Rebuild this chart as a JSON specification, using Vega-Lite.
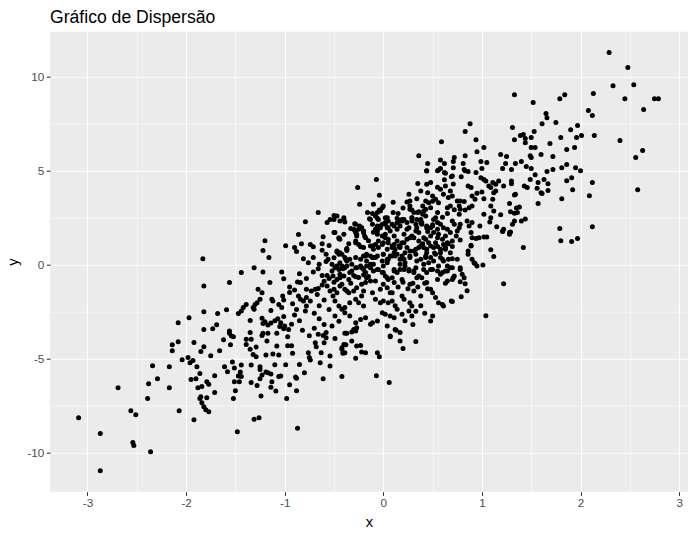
{
  "$schema": "https://vega.github.io/schema/vega-lite/v6.json",
  "width": 638,
  "height": 460,
  "autosize": {"type": "none"},
  "padding": {"left": 50, "top": 31.7, "right": 6, "bottom": 45.3},
  "background": "white",
  "title": {"text": "Gráfico de Dispersão", "anchor": "start", "frame": "group", "fontSize": 17.6, "font": "Liberation Sans", "fontWeight": "normal", "color": "#000000", "baseline": "alphabetic", "offset": 9.7, "dy": 19},
  "config": {
    "view": {"fill": "#EBEBEB", "stroke": null},
    "axis": {"domain": false, "gridColor": "#FFFFFF", "labelFont": "Liberation Sans", "titleFont": "Liberation Sans", "titleFontWeight": "normal", "titleColor": "#000000", "titleFontSize": 14.7, "labelFontSize": 11.7, "labelColor": "#4D4D4D", "tickColor": "#333333", "tickSize": 3.7, "tickWidth": 1.07}
  },
  "data": {"values": [
    {"x": -3.09, "y": -8.16}, {"x": -2.87, "y": -9.0}, {"x": -2.87, "y": -10.97}, {"x": -2.69, "y": -6.56}, {"x": -2.56, "y": -7.78}, {"x": -2.51, "y": -8.0}, {"x": -2.54, "y": -9.48}, {"x": -2.53, "y": -9.64}, {"x": -2.36, "y": -9.96}, {"x": -2.39, "y": -7.14}, {"x": -2.38, "y": -6.35}, {"x": -2.29, "y": -6.08}, {"x": -2.34, "y": -5.39}, {"x": -2.17, "y": -5.44}, {"x": -2.17, "y": -6.56}, {"x": -2.07, "y": -7.78}, {"x": -2.08, "y": -3.1}, {"x": -2.14, "y": -4.27}, {"x": -2.14, "y": -4.59}, {"x": -2.08, "y": -4.11}, {"x": -2.04, "y": -5.07}, {"x": -1.97, "y": -2.84}, {"x": -1.98, "y": -4.96}, {"x": -1.96, "y": -5.23}, {"x": -1.93, "y": -5.12}, {"x": -1.92, "y": -4.16}, {"x": -1.82, "y": -2.52}, {"x": -1.82, "y": -3.47}, {"x": -1.82, "y": -4.38}, {"x": -1.85, "y": -4.64}, {"x": -1.89, "y": -5.44}, {"x": -1.86, "y": -5.81}, {"x": -1.9, "y": -6.08}, {"x": -1.95, "y": -6.13}, {"x": -1.88, "y": -6.56}, {"x": -1.84, "y": -6.49}, {"x": -1.79, "y": -6.24}, {"x": -1.77, "y": -6.38}, {"x": -1.85, "y": -7.04}, {"x": -1.86, "y": -7.14}, {"x": -1.79, "y": -7.09}, {"x": -1.84, "y": -7.36}, {"x": -1.82, "y": -7.57}, {"x": -1.8, "y": -7.73}, {"x": -1.77, "y": -7.84}, {"x": -1.92, "y": -8.26}, {"x": -1.71, "y": -6.82}, {"x": -1.71, "y": -5.92}, {"x": -1.75, "y": -4.86}, {"x": -1.66, "y": -4.59}, {"x": -1.62, "y": -4.01}, {"x": -1.73, "y": -3.42}, {"x": -1.69, "y": -3.21}, {"x": -1.68, "y": -2.62}, {"x": -1.59, "y": -2.41}, {"x": -1.61, "y": -5.44}, {"x": -1.58, "y": -5.71}, {"x": -1.48, "y": -8.9},
    {"x": -0.86, "y": 1.58}, {"x": -0.61, "y": 1.47}, {"x": -0.5, "y": 1.69}, {"x": -0.45, "y": 1.38}, {"x": -1.2, "y": 1.26}, {"x": -0.99, "y": 0.99}, {"x": -0.9, "y": 0.89}, {"x": -0.88, "y": 0.68}, {"x": -0.83, "y": 1.1}, {"x": -0.74, "y": 1.05}, {"x": -0.71, "y": 0.94}, {"x": -0.62, "y": 1.1}, {"x": -1.22, "y": 0.73}, {"x": -1.16, "y": 0.36}, {"x": -1.83, "y": 0.3}, {"x": -0.81, "y": 0.3}, {"x": -0.76, "y": 0.09}, {"x": -0.71, "y": 0.36}, {"x": -0.58, "y": 0.53}, {"x": -0.56, "y": 0.27}, {"x": -0.47, "y": 0.65}, {"x": -0.45, "y": 0.53}, {"x": -0.37, "y": 0.73}, {"x": -0.38, "y": 0.27}, {"x": -0.44, "y": 0.09}, {"x": -0.47, "y": -0.09}, {"x": -0.52, "y": -0.36}, {"x": -0.65, "y": 0.0}, {"x": -0.66, "y": -0.23}, {"x": -0.71, "y": -0.41}, {"x": -0.57, "y": -0.59}, {"x": -0.62, "y": -0.59}, {"x": -0.44, "y": -0.53}, {"x": -0.41, "y": -0.23}, {"x": -0.37, "y": -0.09}, {"x": -1.44, "y": -0.44}, {"x": -1.31, "y": -0.18}, {"x": -1.22, "y": -0.41}, {"x": -1.03, "y": -0.41}, {"x": -1.01, "y": -0.76}, {"x": -1.56, "y": -0.97}, {"x": -1.15, "y": -0.97}, {"x": -0.87, "y": -0.94}, {"x": -0.84, "y": -0.97}, {"x": -0.73, "y": -1.42}, {"x": -0.69, "y": -1.33}, {"x": -0.66, "y": -1.29}, {"x": -0.67, "y": -1.6}, {"x": -0.57, "y": -1.15}, {"x": -0.54, "y": -1.42}, {"x": -0.5, "y": -1.33}, {"x": -0.47, "y": -1.51}, {"x": -0.42, "y": -1.06}, {"x": -0.37, "y": -1.42}, {"x": -0.9, "y": -1.37}, {"x": -0.78, "y": -1.33}, {"x": -0.86, "y": -1.69}, {"x": -0.84, "y": -1.86}, {"x": -0.81, "y": -1.95}, {"x": -0.78, "y": -1.77}, {"x": -0.74, "y": -1.95}, {"x": -0.78, "y": -2.22}, {"x": -0.79, "y": -2.48}, {"x": -1.02, "y": -1.69}, {"x": -1.01, "y": -1.9}, {"x": -1.27, "y": -1.33}, {"x": -1.23, "y": -1.51}, {"x": -1.25, "y": -1.86}, {"x": -1.28, "y": -2.04}, {"x": -1.3, "y": -2.13}, {"x": -1.32, "y": -2.3}, {"x": -1.39, "y": -2.13}, {"x": -1.42, "y": -2.3}, {"x": -1.44, "y": -2.48}, {"x": -1.47, "y": -2.61}, {"x": -1.13, "y": -1.86}, {"x": -1.12, "y": -1.95}, {"x": -1.06, "y": -2.13}, {"x": -1.03, "y": -2.3}, {"x": -1.14, "y": -2.45}, {"x": -1.01, "y": -2.78}, {"x": -1.31, "y": -2.39}, {"x": -1.35, "y": -2.98}, {"x": -1.23, "y": -2.87}, {"x": -1.22, "y": -3.15}, {"x": -1.2, "y": -3.05}, {"x": -1.17, "y": -3.22}, {"x": -1.14, "y": -3.12}, {"x": -1.1, "y": -3.0}, {"x": -1.07, "y": -2.9}, {"x": -1.04, "y": -3.1}, {"x": -1.05, "y": -3.3}, {"x": -1.0, "y": -3.28}, {"x": -0.96, "y": -3.46}, {"x": -1.01, "y": -3.42}, {"x": -0.93, "y": -3.19}, {"x": -0.97, "y": -3.85}, {"x": -1.08, "y": -3.67}, {"x": -1.17, "y": -3.67}, {"x": -1.22, "y": -3.67}, {"x": -1.18, "y": -4.08}, {"x": -1.35, "y": -3.63}, {"x": -1.34, "y": -3.99}, {"x": -1.39, "y": -3.99}, {"x": -1.39, "y": -4.26}, {"x": -1.35, "y": -4.52}, {"x": -1.32, "y": -4.79}, {"x": -1.29, "y": -4.91}, {"x": -1.29, "y": -4.4}, {"x": -1.56, "y": -3.67}, {"x": -1.54, "y": -3.81}, {"x": -1.52, "y": -3.85}, {"x": -1.56, "y": -3.55}, {"x": -1.55, "y": -4.27}, {"x": -1.23, "y": -3.78}, {"x": -1.08, "y": -4.34}, {"x": -0.97, "y": -4.33}, {"x": -0.93, "y": -4.33}, {"x": -0.92, "y": -4.73}, {"x": -1.19, "y": -4.82}, {"x": -1.12, "y": -4.77}, {"x": -1.06, "y": -4.82}, {"x": -0.76, "y": -4.7}, {"x": -0.75, "y": -4.96}, {"x": -0.74, "y": -5.09}, {"x": -0.69, "y": -4.17}, {"x": -0.68, "y": -4.38}, {"x": -0.66, "y": -3.72}, {"x": -0.61, "y": -3.78}, {"x": -0.58, "y": -3.63}, {"x": -0.6, "y": -4.17}, {"x": -0.63, "y": -4.7}, {"x": -0.54, "y": -4.88}, {"x": -0.49, "y": -3.94}, {"x": -0.42, "y": -4.43}, {"x": -0.41, "y": -4.73}, {"x": -0.38, "y": -4.27}, {"x": -0.37, "y": -3.67}, {"x": -0.64, "y": -5.23}, {"x": -0.54, "y": -5.41}, {"x": -0.42, "y": -5.97}, {"x": -0.61, "y": -6.08}, {"x": -0.8, "y": -5.76}, {"x": -0.85, "y": -5.32}, {"x": -0.89, "y": -5.99}, {"x": -0.88, "y": -6.06}, {"x": -0.95, "y": -6.4}, {"x": -0.88, "y": -6.72}, {"x": -0.99, "y": -5.34}, {"x": -1.1, "y": -5.34}, {"x": -1.04, "y": -5.94}, {"x": -1.06, "y": -5.97}, {"x": -1.14, "y": -5.83}, {"x": -1.17, "y": -5.76}, {"x": -1.19, "y": -5.73}, {"x": -1.13, "y": -6.24}, {"x": -1.14, "y": -6.54}, {"x": -1.09, "y": -6.74}, {"x": -1.25, "y": -5.44}, {"x": -1.25, "y": -5.59}, {"x": -1.23, "y": -5.89}, {"x": -1.25, "y": -6.08}, {"x": -1.28, "y": -6.44}, {"x": -1.24, "y": -7.0}, {"x": -1.34, "y": -5.35}, {"x": -1.34, "y": -6.29}, {"x": -0.98, "y": -7.14}, {"x": -1.44, "y": -5.35}, {"x": -1.45, "y": -5.73}, {"x": -1.47, "y": -5.94}, {"x": -1.44, "y": -5.97}, {"x": -1.53, "y": -5.19}, {"x": -1.51, "y": -5.51}, {"x": -1.51, "y": -6.24}, {"x": -1.46, "y": -6.24}, {"x": -1.5, "y": -6.72}, {"x": -1.52, "y": -7.14}, {"x": -1.31, "y": -8.24}, {"x": -1.26, "y": -8.16}, {"x": -0.87, "y": -8.72}, {"x": -1.82, "y": -1.15},
    {"x": -0.07, "y": 4.51}, {"x": -0.26, "y": 4.08}, {"x": -0.04, "y": 3.67}, {"x": -0.24, "y": 3.19}, {"x": -0.1, "y": 3.19}, {"x": -0.01, "y": 3.01}, {"x": -0.03, "y": 2.84}, {"x": -0.16, "y": 2.75}, {"x": -0.11, "y": 2.7}, {"x": -0.06, "y": 2.75}, {"x": 0.1, "y": 2.75}, {"x": 0.44, "y": 4.96}, {"x": 0.56, "y": 5.02}, {"x": 0.63, "y": 4.84}, {"x": 0.7, "y": 4.7}, {"x": 0.71, "y": 4.27}, {"x": 0.44, "y": 4.26}, {"x": 0.48, "y": 4.35}, {"x": 0.38, "y": 3.9}, {"x": 0.26, "y": 3.72}, {"x": 0.24, "y": 3.31}, {"x": 0.27, "y": 3.37}, {"x": 0.34, "y": 3.49}, {"x": 0.43, "y": 3.37}, {"x": 0.46, "y": 3.28}, {"x": 0.5, "y": 3.63}, {"x": 0.53, "y": 3.46}, {"x": 0.56, "y": 3.28}, {"x": 0.58, "y": 3.99}, {"x": 0.63, "y": 4.16}, {"x": 0.61, "y": 3.72}, {"x": 0.66, "y": 3.55}, {"x": 0.7, "y": 3.63}, {"x": 0.75, "y": 3.37}, {"x": 0.77, "y": 3.1}, {"x": 0.68, "y": 3.1}, {"x": 0.65, "y": 3.01}, {"x": 0.48, "y": 3.01}, {"x": 0.41, "y": 2.84}, {"x": 0.36, "y": 2.79}, {"x": 0.27, "y": 2.93}, {"x": 0.31, "y": 2.75}, {"x": 0.29, "y": 2.48}, {"x": 0.19, "y": 2.39}, {"x": 0.16, "y": 2.3}, {"x": 0.14, "y": 2.22}, {"x": 0.04, "y": 2.48}, {"x": 0.05, "y": 2.3}, {"x": 0.02, "y": 2.13}, {"x": -0.03, "y": 1.95}, {"x": -0.06, "y": 1.77}, {"x": 0.38, "y": 2.39}, {"x": 0.39, "y": 2.13}, {"x": 0.34, "y": 1.95}, {"x": 0.33, "y": 1.77}, {"x": 0.29, "y": 1.51}, {"x": 0.51, "y": 2.39}, {"x": 0.55, "y": 2.22}, {"x": 0.58, "y": 2.13}, {"x": 0.61, "y": 1.95}, {"x": 0.65, "y": 1.86}, {"x": 0.68, "y": 1.69}, {"x": 0.63, "y": 1.51}, {"x": 0.6, "y": 1.33}, {"x": 0.48, "y": 1.95}, {"x": 0.51, "y": 1.69}, {"x": 0.55, "y": 1.42}, {"x": 0.53, "y": 1.15}, {"x": 0.48, "y": 0.97}, {"x": 0.77, "y": 2.66}, {"x": 0.78, "y": 2.13}, {"x": 0.78, "y": 1.29}, {"x": -0.5, "y": 2.39}, {"x": -0.47, "y": 2.57}, {"x": -0.4, "y": 2.39}, {"x": -0.39, "y": 2.25}, {"x": -0.49, "y": 1.69}, {"x": -0.45, "y": 1.42}, {"x": -0.44, "y": 1.33}, {"x": -0.28, "y": 2.13}, {"x": -0.25, "y": 1.86}, {"x": -0.22, "y": 1.95}, {"x": -0.2, "y": 1.69}, {"x": -0.18, "y": 1.42}, {"x": -0.28, "y": 1.69}, {"x": -0.27, "y": 1.51}, {"x": -0.28, "y": 1.24}, {"x": -0.25, "y": 1.06}, {"x": -0.23, "y": 0.94}, {"x": -0.11, "y": 0.97}, {"x": -0.08, "y": 1.06}, {"x": -0.05, "y": 1.24}, {"x": -0.01, "y": 1.51}, {"x": 0.02, "y": 1.6}, {"x": 0.05, "y": 1.15}, {"x": 0.09, "y": 0.97}, {"x": 0.12, "y": 0.8}, {"x": 0.17, "y": 0.89}, {"x": 0.21, "y": 1.15}, {"x": 0.24, "y": 1.33}, {"x": -0.47, "y": 0.71}, {"x": -0.44, "y": 0.62}, {"x": -0.37, "y": 0.8}, {"x": -0.39, "y": 0.36}, {"x": -0.34, "y": 0.27}, {"x": -0.28, "y": 0.36}, {"x": -0.23, "y": 0.27}, {"x": -0.2, "y": 0.44}, {"x": -0.17, "y": 0.53}, {"x": -0.13, "y": 0.44}, {"x": -0.08, "y": 0.36}, {"x": 0.0, "y": 0.53}, {"x": 0.04, "y": 0.27}, {"x": 0.07, "y": 0.44}, {"x": 0.11, "y": 0.62}, {"x": 0.19, "y": 0.44}, {"x": 0.22, "y": 0.62}, {"x": 0.27, "y": 0.71}, {"x": 0.33, "y": 0.8}, {"x": 0.36, "y": 0.89}, {"x": 0.41, "y": 0.89}, {"x": 0.44, "y": 0.62}, {"x": 0.48, "y": 0.36}, {"x": 0.51, "y": 0.18}, {"x": 0.58, "y": 0.8}, {"x": 0.63, "y": 0.8}, {"x": 0.68, "y": 0.62}, {"x": 0.66, "y": 0.27}, {"x": 0.65, "y": -0.09}, {"x": 0.63, "y": -0.36}, {"x": 0.7, "y": -0.8}, {"x": 0.72, "y": -0.62}, {"x": 0.78, "y": -0.27}, {"x": 0.75, "y": 0.27}, {"x": -0.52, "y": 0.0}, {"x": -0.49, "y": -0.18}, {"x": -0.45, "y": -0.27}, {"x": -0.42, "y": -0.09}, {"x": -0.39, "y": -0.18}, {"x": -0.51, "y": -0.62}, {"x": -0.47, "y": -0.8}, {"x": -0.44, "y": -0.71}, {"x": -0.4, "y": -0.62}, {"x": -0.32, "y": -0.36}, {"x": -0.28, "y": -0.18}, {"x": -0.23, "y": -0.09}, {"x": -0.2, "y": -0.27}, {"x": -0.17, "y": -0.09}, {"x": -0.13, "y": -0.18}, {"x": -0.1, "y": 0.0}, {"x": -0.05, "y": -0.27}, {"x": -0.01, "y": -0.44}, {"x": 0.02, "y": -0.62}, {"x": 0.05, "y": -0.8}, {"x": 0.09, "y": -0.71}, {"x": 0.14, "y": -0.44}, {"x": 0.17, "y": -0.27}, {"x": 0.22, "y": -0.09}, {"x": 0.26, "y": -0.27}, {"x": 0.31, "y": -0.44}, {"x": 0.36, "y": -0.62}, {"x": 0.39, "y": -0.71}, {"x": 0.44, "y": -0.44}, {"x": 0.48, "y": -0.27}, {"x": 0.55, "y": -0.36}, {"x": 0.58, "y": -0.53}, {"x": -0.44, "y": -1.15}, {"x": -0.39, "y": -1.33}, {"x": -0.35, "y": -1.51}, {"x": -0.3, "y": -1.42}, {"x": -0.27, "y": -1.24}, {"x": -0.22, "y": -1.06}, {"x": -0.18, "y": -0.97}, {"x": -0.13, "y": -0.89}, {"x": -0.51, "y": -1.69}, {"x": -0.49, "y": -1.95}, {"x": -0.45, "y": -2.22}, {"x": -0.42, "y": -2.39}, {"x": -0.39, "y": -2.3}, {"x": -0.34, "y": -2.04}, {"x": -0.28, "y": -1.86}, {"x": -0.25, "y": -2.04}, {"x": -0.22, "y": -1.69}, {"x": -0.2, "y": -2.22}, {"x": -0.11, "y": -1.51}, {"x": -0.08, "y": -1.86}, {"x": -0.03, "y": -2.04}, {"x": 0.0, "y": -1.95}, {"x": 0.05, "y": -2.04}, {"x": 0.09, "y": -1.95}, {"x": 0.0, "y": -1.06}, {"x": 0.04, "y": -1.24}, {"x": 0.09, "y": -1.51}, {"x": 0.19, "y": -1.69}, {"x": 0.21, "y": -1.86}, {"x": 0.27, "y": -2.04}, {"x": 0.29, "y": -2.22}, {"x": 0.38, "y": -1.69}, {"x": 0.5, "y": -1.51}, {"x": 0.53, "y": -1.77}, {"x": 0.56, "y": -2.04}, {"x": 0.6, "y": -2.13}, {"x": 0.69, "y": -1.95}, {"x": -0.49, "y": -2.75}, {"x": -0.45, "y": -3.02}, {"x": -0.52, "y": -3.28}, {"x": -0.39, "y": -2.57}, {"x": -0.34, "y": -2.75}, {"x": -0.28, "y": -3.1}, {"x": -0.27, "y": -3.37}, {"x": -0.3, "y": -3.46}, {"x": -0.23, "y": -2.93}, {"x": -0.18, "y": -2.84}, {"x": -0.13, "y": -3.19}, {"x": -0.11, "y": -3.1}, {"x": -0.06, "y": -3.01}, {"x": -0.01, "y": -2.57}, {"x": 0.02, "y": -2.66}, {"x": 0.07, "y": -2.75}, {"x": 0.11, "y": -2.84}, {"x": 0.14, "y": -2.39}, {"x": 0.19, "y": -2.66}, {"x": 0.26, "y": -2.48}, {"x": 0.29, "y": -2.75}, {"x": 0.04, "y": -3.28}, {"x": 0.12, "y": -3.46}, {"x": 0.07, "y": -3.81}, {"x": 0.17, "y": -3.63}, {"x": 0.48, "y": -3.01}, {"x": 0.5, "y": -2.75}, {"x": 0.17, "y": -4.08}, {"x": 0.2, "y": -4.47}, {"x": 0.33, "y": -4.1}, {"x": -0.39, "y": -3.67}, {"x": -0.32, "y": -4.08}, {"x": -0.4, "y": -4.26}, {"x": -0.42, "y": -4.52}, {"x": -0.39, "y": -4.7}, {"x": -0.27, "y": -4.34}, {"x": -0.23, "y": -4.31}, {"x": -0.22, "y": -4.66}, {"x": -0.18, "y": -4.7}, {"x": -0.28, "y": -5.0}, {"x": -0.06, "y": -4.7}, {"x": -0.04, "y": -4.91}, {"x": -0.32, "y": -3.6}, {"x": -0.28, "y": -3.55}, {"x": -0.07, "y": -5.92}, {"x": 0.06, "y": -6.29}, {"x": 0.07, "y": -3.85}, {"x": 0.13, "y": -3.51},
    {"x": 2.29, "y": 11.26}, {"x": 2.48, "y": 10.46}, {"x": 2.33, "y": 9.5}, {"x": 2.54, "y": 9.55}, {"x": 2.45, "y": 8.81}, {"x": 2.75, "y": 8.81}, {"x": 2.79, "y": 8.81}, {"x": 2.64, "y": 8.23}, {"x": 2.13, "y": 9.08}, {"x": 2.08, "y": 8.18}, {"x": 2.12, "y": 7.91}, {"x": 2.14, "y": 6.85}, {"x": 2.4, "y": 6.58}, {"x": 2.63, "y": 6.05}, {"x": 2.56, "y": 5.68}, {"x": 2.58, "y": 3.97}, {"x": 2.12, "y": 4.35}, {"x": 2.09, "y": 3.65}, {"x": 2.12, "y": 2.0}, {"x": 1.79, "y": 1.9}, {"x": 1.8, "y": 1.26}, {"x": 1.91, "y": 1.21}, {"x": 1.97, "y": 1.37}, {"x": 1.81, "y": 3.49}, {"x": 1.92, "y": 3.97}, {"x": 1.91, "y": 4.61}, {"x": 1.86, "y": 4.45}, {"x": 1.95, "y": 5.14}, {"x": 2.0, "y": 4.98}, {"x": 1.81, "y": 5.14}, {"x": 1.86, "y": 5.31}, {"x": 1.72, "y": 5.04}, {"x": 1.66, "y": 4.93}, {"x": 1.67, "y": 4.29}, {"x": 1.67, "y": 3.92}, {"x": 1.57, "y": 4.35}, {"x": 1.57, "y": 3.23}, {"x": 1.63, "y": 4.51}, {"x": 1.6, "y": 3.81}, {"x": 1.61, "y": 3.76}, {"x": 1.56, "y": 4.04}, {"x": 1.54, "y": 4.77}, {"x": 1.49, "y": 4.51}, {"x": 1.43, "y": 4.16}, {"x": 1.46, "y": 4.08}, {"x": 1.33, "y": 9.02}, {"x": 1.52, "y": 8.6}, {"x": 1.79, "y": 8.81}, {"x": 1.84, "y": 9.02}, {"x": 1.65, "y": 8.02}, {"x": 1.66, "y": 7.8}, {"x": 1.61, "y": 7.48}, {"x": 1.75, "y": 7.54}, {"x": 1.31, "y": 7.27}, {"x": 1.33, "y": 6.63}, {"x": 1.39, "y": 6.85}, {"x": 1.42, "y": 6.9}, {"x": 1.44, "y": 6.69}, {"x": 1.44, "y": 6.47}, {"x": 1.5, "y": 6.74}, {"x": 1.53, "y": 7.06}, {"x": 1.5, "y": 6.21}, {"x": 1.54, "y": 6.21}, {"x": 1.49, "y": 5.78}, {"x": 1.5, "y": 5.68}, {"x": 1.6, "y": 5.84}, {"x": 1.69, "y": 6.42}, {"x": 1.72, "y": 5.73}, {"x": 1.8, "y": 6.74}, {"x": 1.86, "y": 6.1}, {"x": 1.9, "y": 7.16}, {"x": 1.96, "y": 6.74}, {"x": 1.97, "y": 7.38}, {"x": 2.01, "y": 6.85}, {"x": 1.94, "y": 6.21}, {"x": 1.19, "y": 5.84}, {"x": 1.25, "y": 5.73}, {"x": 1.21, "y": 5.09}, {"x": 1.24, "y": 5.36}, {"x": 1.3, "y": 5.04}, {"x": 1.34, "y": 5.36}, {"x": 1.4, "y": 5.47}, {"x": 1.45, "y": 5.2}, {"x": 1.5, "y": 5.09}, {"x": 1.3, "y": 4.43}, {"x": 1.3, "y": 4.29}, {"x": 1.22, "y": 4.16}, {"x": 1.17, "y": 4.43}, {"x": 1.14, "y": 4.26}, {"x": 1.11, "y": 4.35}, {"x": 1.07, "y": 4.16}, {"x": 1.33, "y": 3.69}, {"x": 1.34, "y": 3.72}, {"x": 1.28, "y": 3.24}, {"x": 1.38, "y": 3.05}, {"x": 1.35, "y": 2.99}, {"x": 1.36, "y": 2.75}, {"x": 1.29, "y": 2.8}, {"x": 1.33, "y": 2.72}, {"x": 1.4, "y": 2.3}, {"x": 1.44, "y": 2.41}, {"x": 1.33, "y": 2.3}, {"x": 1.31, "y": 2.13}, {"x": 1.22, "y": 1.86}, {"x": 1.21, "y": 1.74}, {"x": 1.29, "y": 1.72}, {"x": 1.28, "y": 1.6}, {"x": 1.19, "y": 2.64}, {"x": 1.42, "y": 0.89}, {"x": 1.09, "y": 0.78}, {"x": 1.12, "y": 0.41}, {"x": 1.22, "y": -1.03}, {"x": 1.15, "y": 2.0}, {"x": 1.08, "y": 2.25}, {"x": 1.09, "y": 2.48}, {"x": 1.12, "y": 2.84}, {"x": 1.09, "y": 3.1}, {"x": 1.11, "y": 3.46}, {"x": 1.12, "y": 3.81}, {"x": 1.09, "y": 4.08}, {"x": 1.14, "y": 3.9}, {"x": 1.02, "y": 2.66}, {"x": 0.98, "y": 2.04}, {"x": 1.02, "y": 3.49}, {"x": 0.88, "y": 7.48}, {"x": 0.83, "y": 7.06}, {"x": 0.94, "y": 6.63}, {"x": 0.95, "y": 5.99}, {"x": 1.02, "y": 6.21}, {"x": 0.83, "y": 5.78}, {"x": 0.81, "y": 5.36}, {"x": 0.99, "y": 5.47}, {"x": 1.05, "y": 5.41}, {"x": 1.0, "y": 5.09}, {"x": 0.72, "y": 5.68}, {"x": 0.71, "y": 5.47}, {"x": 0.71, "y": 5.14}, {"x": 0.83, "y": 4.98}, {"x": 0.86, "y": 4.93}, {"x": 0.94, "y": 4.88}, {"x": 0.79, "y": 4.66}, {"x": 0.99, "y": 4.61}, {"x": 1.02, "y": 4.51}, {"x": 1.04, "y": 4.43}, {"x": 0.86, "y": 4.16}, {"x": 0.89, "y": 4.08}, {"x": 0.9, "y": 3.63}, {"x": 0.95, "y": 3.78}, {"x": 1.0, "y": 3.85}, {"x": 0.93, "y": 3.46}, {"x": 0.78, "y": 3.37}, {"x": 0.82, "y": 3.34}, {"x": 0.78, "y": 2.93}, {"x": 0.83, "y": 2.89}, {"x": 0.87, "y": 3.01}, {"x": 0.9, "y": 3.1}, {"x": 0.72, "y": 2.13}, {"x": 0.77, "y": 1.95}, {"x": 0.75, "y": 1.77}, {"x": 0.85, "y": 2.3}, {"x": 0.87, "y": 2.04}, {"x": 0.89, "y": 1.69}, {"x": 0.9, "y": 2.22}, {"x": 0.9, "y": 1.42}, {"x": 0.94, "y": 1.37}, {"x": 0.97, "y": 1.42}, {"x": 1.02, "y": 1.45}, {"x": 1.05, "y": 1.45}, {"x": 0.7, "y": 1.24}, {"x": 0.89, "y": 0.97}, {"x": 0.86, "y": 0.71}, {"x": 0.86, "y": 0.53}, {"x": 0.9, "y": 0.27}, {"x": 0.93, "y": 0.05}, {"x": 0.95, "y": -0.09}, {"x": 1.01, "y": -0.04}, {"x": 0.7, "y": 0.3}, {"x": 0.7, "y": -0.18}, {"x": 0.71, "y": -0.71}, {"x": 0.78, "y": -0.18}, {"x": 0.8, "y": -0.53}, {"x": 0.82, "y": -0.71}, {"x": 0.78, "y": -0.92}, {"x": 0.83, "y": -1.03}, {"x": 0.85, "y": -1.4}, {"x": 0.79, "y": -1.72},
    {"x": 1.04, "y": -2.73}, {"x": 0.7, "y": -1.98}, {"x": 0.61, "y": -2.22}, {"x": 0.65, "y": -0.89}, {"x": 0.63, "y": -1.01}, {"x": 0.68, "y": -0.18}, {"x": 0.65, "y": -0.36}, {"x": 0.6, "y": -0.44}, {"x": 0.6, "y": 0.27}, {"x": 0.92, "y": 0.09}, {"x": 0.89, "y": 1.01}, {"x": 0.65, "y": 1.15}, {"x": 0.61, "y": 1.06}, {"x": 0.63, "y": 0.89}, {"x": 1.21, "y": 1.77}, {"x": 1.28, "y": 1.69}, {"x": 0.58, "y": 0.62}, {"x": 0.58, "y": 0.36}, {"x": 0.61, "y": 0.18},
    {"x": -0.66, "y": 2.75}, {"x": -0.79, "y": 2.27}, {"x": -0.5, "y": 2.59}, {"x": -0.54, "y": 2.39}, {"x": -0.57, "y": 2.22}, {"x": -0.44, "y": 2.3}, {"x": -0.4, "y": 2.48}, {"x": -0.29, "y": 2.16}, {"x": -0.29, "y": 1.81}, {"x": -0.24, "y": 2.04},
    {"x": 0.0, "y": 3.1}, {"x": -0.04, "y": 2.89}, {"x": 0.27, "y": 3.1}, {"x": 0.29, "y": 2.89}, {"x": 0.35, "y": 2.75}, {"x": 0.4, "y": 2.66}, {"x": 0.43, "y": 2.93}, {"x": -0.14, "y": 2.43}, {"x": -0.08, "y": 2.57}, {"x": -0.05, "y": 2.39}, {"x": -0.3, "y": 1.86}, {"x": -0.27, "y": 1.6}, {"x": -0.24, "y": 1.95}, {"x": -0.2, "y": 1.77}, {"x": -0.19, "y": 1.51}, {"x": -0.06, "y": 2.04}, {"x": -0.01, "y": 2.13}, {"x": 0.02, "y": 2.22}, {"x": 0.04, "y": 1.95}, {"x": 0.07, "y": 1.77}, {"x": 0.11, "y": 2.04}, {"x": 0.14, "y": 1.86}, {"x": 0.17, "y": 2.3}, {"x": 0.21, "y": 2.39}, {"x": 0.24, "y": 2.22}, {"x": 0.26, "y": 1.95}, {"x": 0.29, "y": 2.3}, {"x": 0.34, "y": 2.39}, {"x": 0.38, "y": 2.22}, {"x": 0.44, "y": 2.04}, {"x": -0.28, "y": 1.15}, {"x": -0.37, "y": 0.84}, {"x": -0.42, "y": 0.53}, {"x": -0.1, "y": 0.8}, {"x": -0.05, "y": 0.89}, {"x": 0.0, "y": 1.15}, {"x": 0.05, "y": 1.33}, {"x": 0.11, "y": 1.06}, {"x": 0.16, "y": 0.97}, {"x": 0.19, "y": 1.15}, {"x": 0.31, "y": 1.42}, {"x": 0.36, "y": 1.24}, {"x": 0.41, "y": 1.42}, {"x": 0.46, "y": 1.15}, {"x": -0.37, "y": 0.18}, {"x": -0.32, "y": 0.0}, {"x": -0.27, "y": -0.18}, {"x": -0.17, "y": 0.18}, {"x": -0.11, "y": 0.36}, {"x": -0.06, "y": 0.44}, {"x": -0.01, "y": 0.18}, {"x": 0.04, "y": 0.09}, {"x": 0.09, "y": 0.44}, {"x": 0.14, "y": 0.53}, {"x": 0.17, "y": 0.27}, {"x": 0.22, "y": 0.09}, {"x": 0.27, "y": 0.36}, {"x": 0.33, "y": 0.53}, {"x": 0.38, "y": 0.27}, {"x": 0.43, "y": 0.44}, {"x": 0.46, "y": 0.09}, {"x": -0.34, "y": -0.44}, {"x": -0.28, "y": -0.66}, {"x": -0.18, "y": -0.44}, {"x": -0.1, "y": -0.36}, {"x": 0.0, "y": -0.44}, {"x": 0.11, "y": -0.36}, {"x": 0.21, "y": -0.27}, {"x": 0.31, "y": -0.36}, {"x": 0.41, "y": -0.27},
    {"x": 0.59, "y": 6.52}, {"x": 0.36, "y": 5.78}, {"x": 0.45, "y": 5.36}, {"x": 0.44, "y": 4.98}, {"x": 0.58, "y": 5.55}, {"x": 0.62, "y": 5.36}, {"x": 0.82, "y": 5.04}, {"x": 0.58, "y": 5.09}, {"x": 0.55, "y": 4.98}, {"x": 0.62, "y": 4.88}, {"x": 0.69, "y": 4.66},
    {"x": -0.13, "y": 2.39}, {"x": -0.06, "y": 2.45}, {"x": 0.02, "y": 2.48}, {"x": 0.14, "y": 2.45}, {"x": 0.19, "y": 2.3}, {"x": 0.29, "y": 2.48}, {"x": 0.43, "y": 2.57}, {"x": 0.53, "y": 2.48},
    {"x": -0.22, "y": 1.95}, {"x": -0.11, "y": 2.13}, {"x": -0.08, "y": 1.86}, {"x": -0.03, "y": 2.04}, {"x": 0.05, "y": 1.95}, {"x": 0.09, "y": 2.13}, {"x": 0.17, "y": 2.04}, {"x": 0.24, "y": 1.86}, {"x": 0.33, "y": 2.13}, {"x": 0.39, "y": 2.22}, {"x": 0.44, "y": 1.95}, {"x": 0.5, "y": 2.04}, {"x": 0.55, "y": 1.86},
    {"x": -0.06, "y": 1.6}, {"x": 0.02, "y": 1.42}, {"x": 0.11, "y": 1.51}, {"x": 0.14, "y": 1.24}, {"x": 0.21, "y": 1.6}, {"x": 0.27, "y": 1.42}, {"x": 0.36, "y": 1.69}, {"x": 0.43, "y": 1.33}, {"x": 0.48, "y": 1.51}, {"x": 0.56, "y": 1.6},
    {"x": -0.2, "y": 0.89}, {"x": -0.13, "y": 0.97}, {"x": -0.01, "y": 1.06}, {"x": 0.04, "y": 0.8}, {"x": 0.09, "y": 0.89}, {"x": 0.17, "y": 0.97}, {"x": 0.24, "y": 0.89}, {"x": 0.31, "y": 0.71}, {"x": 0.38, "y": 0.97}, {"x": 0.44, "y": 0.8}, {"x": 0.51, "y": 0.89},
    {"x": -0.18, "y": 0.44}, {"x": -0.1, "y": 0.36}, {"x": 0.0, "y": 0.53}, {"x": 0.05, "y": 0.27}, {"x": 0.12, "y": 0.44}, {"x": 0.21, "y": 0.27}, {"x": 0.27, "y": 0.44}, {"x": 0.34, "y": 0.18}, {"x": 0.43, "y": 0.36}, {"x": 0.53, "y": 0.53},
    {"x": -0.22, "y": -0.18}, {"x": -0.13, "y": 0.0}, {"x": -0.06, "y": -0.27}, {"x": 0.0, "y": -0.09}, {"x": 0.11, "y": -0.27}, {"x": 0.17, "y": 0.0}, {"x": 0.26, "y": -0.36}, {"x": 0.33, "y": -0.18}, {"x": 0.41, "y": 0.0}, {"x": 0.5, "y": -0.27}, {"x": 0.56, "y": -0.09},
    {"x": -0.17, "y": -0.71}, {"x": -0.08, "y": -0.89}, {"x": 0.04, "y": -0.71}, {"x": 0.11, "y": -0.97}, {"x": 0.19, "y": -0.8}, {"x": 0.27, "y": -1.06}, {"x": 0.34, "y": -0.71}, {"x": 0.44, "y": -0.97}, {"x": 0.55, "y": -0.8},
    {"x": -0.2, "y": -1.42}, {"x": -0.03, "y": -1.33}, {"x": 0.07, "y": -1.51}, {"x": 0.31, "y": -1.42}, {"x": 0.48, "y": -1.33},
    {"x": -0.6, "y": -0.9}, {"x": -0.55, "y": -0.75}, {"x": -0.5, "y": -0.95}, {"x": -0.62, "y": -1.1}, {"x": -0.35, "y": -0.8}, {"x": -0.3, "y": -0.6}, {"x": -0.33, "y": -1.0}, {"x": -0.25, "y": -0.7}, {"x": -0.2, "y": -0.55}, {"x": -0.15, "y": -0.65}, {"x": -0.58, "y": 0.15}, {"x": -0.5, "y": 0.35}, {"x": -0.62, "y": 0.75}, {"x": -0.55, "y": 1.0}, {"x": -0.35, "y": 1.1}, {"x": -0.4, "y": 1.6}, {"x": -0.33, "y": 1.9}, {"x": -0.15, "y": 1.25}, {"x": -0.1, "y": 1.7},
    {"x": 0.52, "y": 0.6}, {"x": 0.55, "y": 0.95}, {"x": 0.6, "y": 2.5}, {"x": 0.65, "y": 2.7}, {"x": 0.7, "y": 2.3}, {"x": 0.72, "y": 2.9}, {"x": 0.55, "y": 2.75}, {"x": 0.5, "y": 2.1}, {"x": 0.45, "y": 1.75}, {"x": 0.4, "y": 1.1}, {"x": 0.7, "y": 0.95}, {"x": 0.74, "y": 1.5}, {"x": 0.66, "y": 1.1},
    {"x": 0.15, "y": -1.2}, {"x": 0.25, "y": -1.3}, {"x": 0.3, "y": -1.0}, {"x": 0.35, "y": -1.2}, {"x": 0.42, "y": -1.0}, {"x": 0.45, "y": -1.3}, {"x": 0.2, "y": -0.95}, {"x": 0.12, "y": -2.2}, {"x": 0.33, "y": -2.5}, {"x": 0.38, "y": -2.2}, {"x": 0.42, "y": -2.6}, {"x": 0.22, "y": -3.0}, {"x": 0.3, "y": -3.2},
    {"x": -0.95, "y": -1.2}, {"x": -0.92, "y": -2.1}, {"x": -0.88, "y": -2.4}, {"x": -0.7, "y": -2.6}, {"x": -0.65, "y": -2.9}, {"x": -0.6, "y": -3.2}, {"x": -0.7, "y": -3.4}, {"x": -0.85, "y": -3.0}, {"x": -0.9, "y": -2.7}, {"x": -0.55, "y": -2.4}, {"x": -0.6, "y": -1.9}, {"x": -0.65, "y": -2.2}, {"x": -0.95, "y": -1.5}, {"x": -0.85, "y": -0.5}, {"x": -0.78, "y": -0.75}, {"x": -0.58, "y": -3.9}, {"x": -0.75, "y": -3.8}, {"x": -0.82, "y": -3.5},
    {"x": 0.45, "y": 3.8}, {"x": 0.55, "y": 4.1}, {"x": 0.35, "y": 4.3}, {"x": 0.62, "y": 4.5}, {"x": 0.4, "y": 3.1}, {"x": 0.5, "y": 3.35}, {"x": 0.2, "y": 3.0}, {"x": 0.15, "y": 2.7}, {"x": 0.1, "y": 3.3}, {"x": 0.68, "y": 3.9}
  ]},
  "layer": [
    {
      "mark": {"type": "point", "opacity": 0},
      "encoding": {
        "x": {"field": "x", "type": "quantitative", "scale": {"domain": [-3.38, 3.09], "nice": false, "zero": false},
              "axis": {"orient": "bottom", "values": [-2.5, -1.5, -0.5, 0.5, 1.5, 2.5], "grid": true, "gridWidth": 0.55, "labels": false, "ticks": false, "title": null}},
        "y": {"field": "y", "type": "quantitative", "scale": {"domain": [-12.09, 12.37], "nice": false, "zero": false},
              "axis": {"orient": "left", "values": [-7.5, -2.5, 2.5, 7.5], "grid": true, "gridWidth": 0.55, "labels": false, "ticks": false, "title": null}}
      }
    },
    {
      "mark": {"type": "circle", "color": "#000000", "opacity": 1, "size": 25},
      "encoding": {
        "x": {"field": "x", "type": "quantitative",
              "axis": {"orient": "bottom", "values": [-3, -2, -1, 0, 1, 2, 3], "grid": true, "gridWidth": 1.07, "labelExpr": "toString(datum.value)", "labelPadding": 2.5, "title": "x", "titleBaseline": "alphabetic", "titleY": 34.5}},
        "y": {"field": "y", "type": "quantitative",
              "axis": {"orient": "left", "values": [-10, -5, 0, 5, 10], "grid": true, "gridWidth": 1.07, "labelExpr": "toString(datum.value)", "labelPadding": 2.5, "title": "y", "titleBaseline": "alphabetic", "titleX": -33, "titleY": 230, "titleAngle": -90}}
      }
    }
  ],
  "resolve": {"axis": {"x": "independent", "y": "independent"}}
}
